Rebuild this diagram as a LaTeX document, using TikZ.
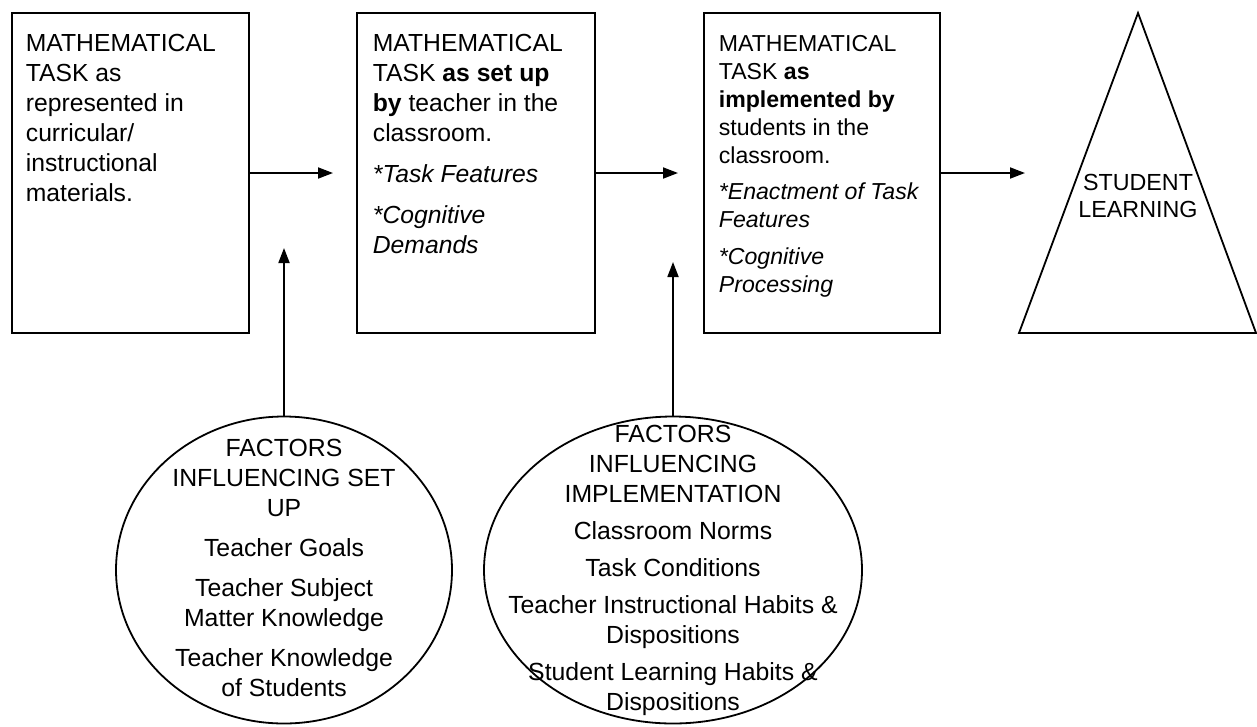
\documentclass[tikz,border=0pt]{standalone}
\usepackage{fontspec}
\setmainfont{Liberation Sans}
\usetikzlibrary{arrows.meta,shapes.geometric}

\begin{document}
\begin{tikzpicture}[x=1pt,y=-1pt,line width=1.8pt,
  taskbox/.style={draw, rectangle, minimum height=320pt, inner sep=0pt, outer sep=0pt, anchor=north west},
  boxtext/.style={anchor=north west, inner sep=0pt, align=left, font=\fontsize{24.7}{30}\selectfont},
  smalltext/.style={anchor=north west, inner sep=0pt, align=left, font=\fontsize{23.1}{28}\selectfont},
  factor/.style={draw, ellipse, inner sep=0pt, outer sep=0pt, minimum height=307pt},
  factortext/.style={anchor=north, inner sep=0pt, align=center, font=\fontsize{24.8}{30}\selectfont},
  flow/.style={-{Triangle[length=15pt,width=11pt]}},
]
\useasboundingbox (0,0) rectangle (1257,726);

% the three stages of the task
\node[taskbox, minimum width=237pt] (b1) at (12,13) {};
\node[taskbox, minimum width=238pt] (b2) at (357,13) {};
\node[taskbox, minimum width=236pt] (b3) at (704,13) {};

\node[boxtext] (t1) at (25,33.5) {MATHEMATICAL\\TASK as\\represented in\\curricular/\\instructional\\materials.};
\node[boxtext] (t2) at (372,33.5) {MATHEMATICAL\\TASK \textbf{as set up}\\\textbf{by} teacher in the\\classroom.\\[11pt]\textit{*Task Features}\\[11pt]\textit{*Cognitive}\\\textit{Demands}};
\node[smalltext] (t3) at (718,34) {MATHEMATICAL\\TASK \textbf{as}\\\textbf{implemented by}\\students in the\\classroom.\\[8.5pt]\textit{*Enactment of Task}\\\textit{Features}\\[8.5pt]\textit{*Cognitive}\\\textit{Processing}};

% outcome triangle
\coordinate (apex) at (1138,13);
\coordinate (baseL) at (1019,333);
\coordinate (baseR) at (1256,333);
\draw (apex) -- (baseR) -- (baseL) -- cycle;
\node[anchor=north, inner sep=0pt, align=center, font=\fontsize{23.3}{27}\selectfont] (learn) at (1138,173.5) {STUDENT\\LEARNING};

% influencing factors
\node[factor, minimum width=336pt] (e1) at (284,570) {};
\node[factor, minimum width=378pt] (e2) at (673,570) {};

\node[factortext] (f1) at (284,438) {FACTORS\\INFLUENCING SET\\UP\\[10pt]Teacher Goals\\[10pt]Teacher Subject\\Matter Knowledge\\[10pt]Teacher Knowledge\\of Students};
\node[factortext] (f2) at (673,424) {FACTORS\\INFLUENCING\\IMPLEMENTATION\\[7pt]Classroom Norms\\[7pt]Task Conditions\\[7pt]Teacher Instructional Habits \&\\Dispositions\\[7pt]Student Learning Habits \&\\Dispositions};

% arrow end points
\coordinate (h1) at (333,173);
\coordinate (h2) at (678,173);
\coordinate (h3) at (1025,173);
\coordinate (v1) at (284,248);
\coordinate (v2) at (673,262);

\draw[flow] (b1.east) -- (h1);
\draw[flow] (b2.east) -- (h2);
\draw[flow] (b3.east) -- (h3);
\draw[flow] (e1.north) -- (v1);
\draw[flow] (e2.north) -- (v2);
\end{tikzpicture}
\end{document}
